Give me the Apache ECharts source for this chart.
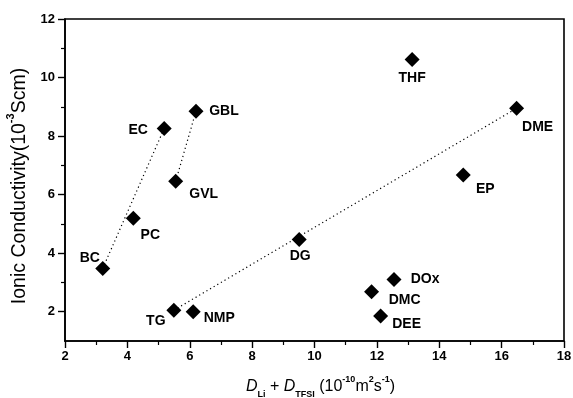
<!DOCTYPE html>
<html>
<head>
<meta charset="utf-8">
<script src="https://cdn.jsdelivr.net/npm/echarts@6/dist/echarts.min.js"></script>
<style>
  html, body { margin: 0; padding: 0; background: #fff; }
  #chart { width: 573px; height: 398px; }
</style>
</head>
<body>
<div id="chart"></div>
<script>
// Solvents and their measured diffusion sum vs. ionic conductivity
const solvents     = ['BC', 'PC', 'EC', 'GBL', 'GVL', 'TG', 'NMP', 'DG', 'THF', 'DME', 'EP', 'DOx', 'DMC', 'DEE'];
const diffusionSum = [3.21, 4.19, 5.18, 6.20, 5.55, 5.49, 6.11, 9.51, 13.13, 16.48, 14.77, 12.55, 11.83, 12.12];
const conductivity = [3.48, 5.19, 8.26, 8.85, 6.46, 2.05, 2.00, 4.47, 10.62, 8.95, 6.67, 3.10, 2.68, 1.85];

// Dotted guide lines joining solvent families
const trendLines = [['BC', 'EC'], ['GVL', 'GBL'], ['TG', 'DME']];

// Axis ticks
const xTicks = [2, 4, 6, 8, 10, 12, 14, 16, 18];
const yTicks = [2, 4, 6, 8, 10, 12];
const yMinorTicks = [3, 5, 7, 9, 11];

// Label placement around each marker (pixel offset of text centre)
const labelOffset = {
  BC: [-13, -10], PC: [17, 17], EC: [-26, 2], GBL: [28, 0], GVL: [28, 13],
  TG: [-18, 11], NMP: [26, 6], DG: [1, 17], THF: [0, 19], DME: [21, 19],
  EP: [22, 14], DOx: [31, 0], DMC: [33, 8], DEE: [26, 8]
};

const FONT = '"Liberation Sans", Arial, Helvetica, sans-serif';

const pointOf = name => {
  const i = solvents.indexOf(name);
  return [diffusionSum[i], conductivity[i]];
};

const points = solvents.map((name, i) => ({
  name: name,
  value: [diffusionSum[i], conductivity[i]],
  label: { offset: labelOffset[name] }
}));

const lineSeries = trendLines.map(pair => ({
  type: 'line',
  data: pair.map(pointOf),
  symbol: 'none',
  silent: true,
  z: 1,
  lineStyle: { color: '#000', width: 1.2, type: [1.2, 3] }
}));

const chart = echarts.init(document.getElementById('chart'), null, { renderer: 'canvas' });

chart.setOption({
  animation: false,
  backgroundColor: '#fff',
  grid: {
    left: 65, right: 9, top: 19, bottom: 57,
    outerBoundsMode: 'none',
    containLabel: false,
    show: true, borderColor: '#000', borderWidth: 1.6, backgroundColor: 'transparent'
  },
  xAxis: {
    type: 'value',
    min: 2, max: 18, interval: 2,
    axisLine: { lineStyle: { color: '#000', width: 1.6 } },
    axisTick: { length: 7, lineStyle: { color: '#000', width: 1.4 } },
    minorTick: { show: true, splitNumber: 2, length: 4, lineStyle: { color: '#000', width: 1.2 } },
    splitLine: { show: false },
    axisLabel: { color: '#000', fontFamily: FONT, fontWeight: 'bold', fontSize: 13, margin: 9,
      customValues: xTicks },
    name: '{it|D}{sub|Li}{n| + }{it|D}{sub|TFSI}{n| (10}{sup|-10}{n|m}{sup|2}{n|s}{sup|-1}{n|)}',
    nameLocation: 'middle',
    nameGap: 34,
    nameTextStyle: {
      padding: [0, 0, 0, 12],
      rich: {
        n:   { fontFamily: FONT, fontSize: 16, color: '#000', verticalAlign: 'bottom', lineHeight: 20 },
        it:  { fontFamily: FONT, fontSize: 16, color: '#000', fontStyle: 'italic', verticalAlign: 'bottom', lineHeight: 20 },
        sub: { fontFamily: FONT, fontSize: 9, color: '#000', fontWeight: 'bold', verticalAlign: 'bottom', lineHeight: 12, padding: [0, 0, -4, 0] },
        sup: { fontFamily: FONT, fontSize: 9, color: '#000', fontWeight: 'bold', verticalAlign: 'top', lineHeight: 12, padding: [0, 0, 6, 0] }
      }
    }
  },
  yAxis: [{
    type: 'value',
    min: 1, max: 12,
    axisLine: { lineStyle: { color: '#000', width: 1.6 } },
    axisTick: { length: 7, lineStyle: { color: '#000', width: 1.4 }, customValues: yTicks },
    splitLine: { show: false },
    axisLabel: { color: '#000', fontFamily: FONT, fontWeight: 'bold', fontSize: 13, margin: 10,
      customValues: yTicks },
    name: '{n|Ionic Conductivity(10}{sup|-3}{n|Scm)}',
    nameLocation: 'middle',
    nameGap: 29,
    nameRotate: 90,
    nameTextStyle: {
      padding: [0, 12, 0, 0],
      rich: {
        n:   { fontFamily: FONT, fontSize: 19.5, color: '#000', verticalAlign: 'bottom', lineHeight: 24 },
        sup: { fontFamily: FONT, fontSize: 11, color: '#000', fontWeight: 'bold', verticalAlign: 'top', lineHeight: 14, padding: [0, 0, 8, 0] }
      }
    }
  }, {
    type: 'value',
    position: 'left',
    min: 1, max: 12,
    axisLine: { show: false },
    axisTick: { show: true, length: 4, lineStyle: { color: '#000', width: 1.2 }, customValues: yMinorTicks },
    axisLabel: { show: false },
    splitLine: { show: false }
  }],
  series: [
    ...lineSeries,
    {
      type: 'scatter',
      data: points,
      symbol: 'diamond',
      symbolSize: 15,
      z: 3,
      itemStyle: { color: '#000', opacity: 1 },
      label: {
        show: true,
        position: 'inside',
        align: 'center',
        verticalAlign: 'middle',
        formatter: '{b}',
        color: '#000',
        fontFamily: FONT,
        fontWeight: 'bold',
        fontSize: 14
      }
    }
  ]
});
</script>
</body>
</html>
